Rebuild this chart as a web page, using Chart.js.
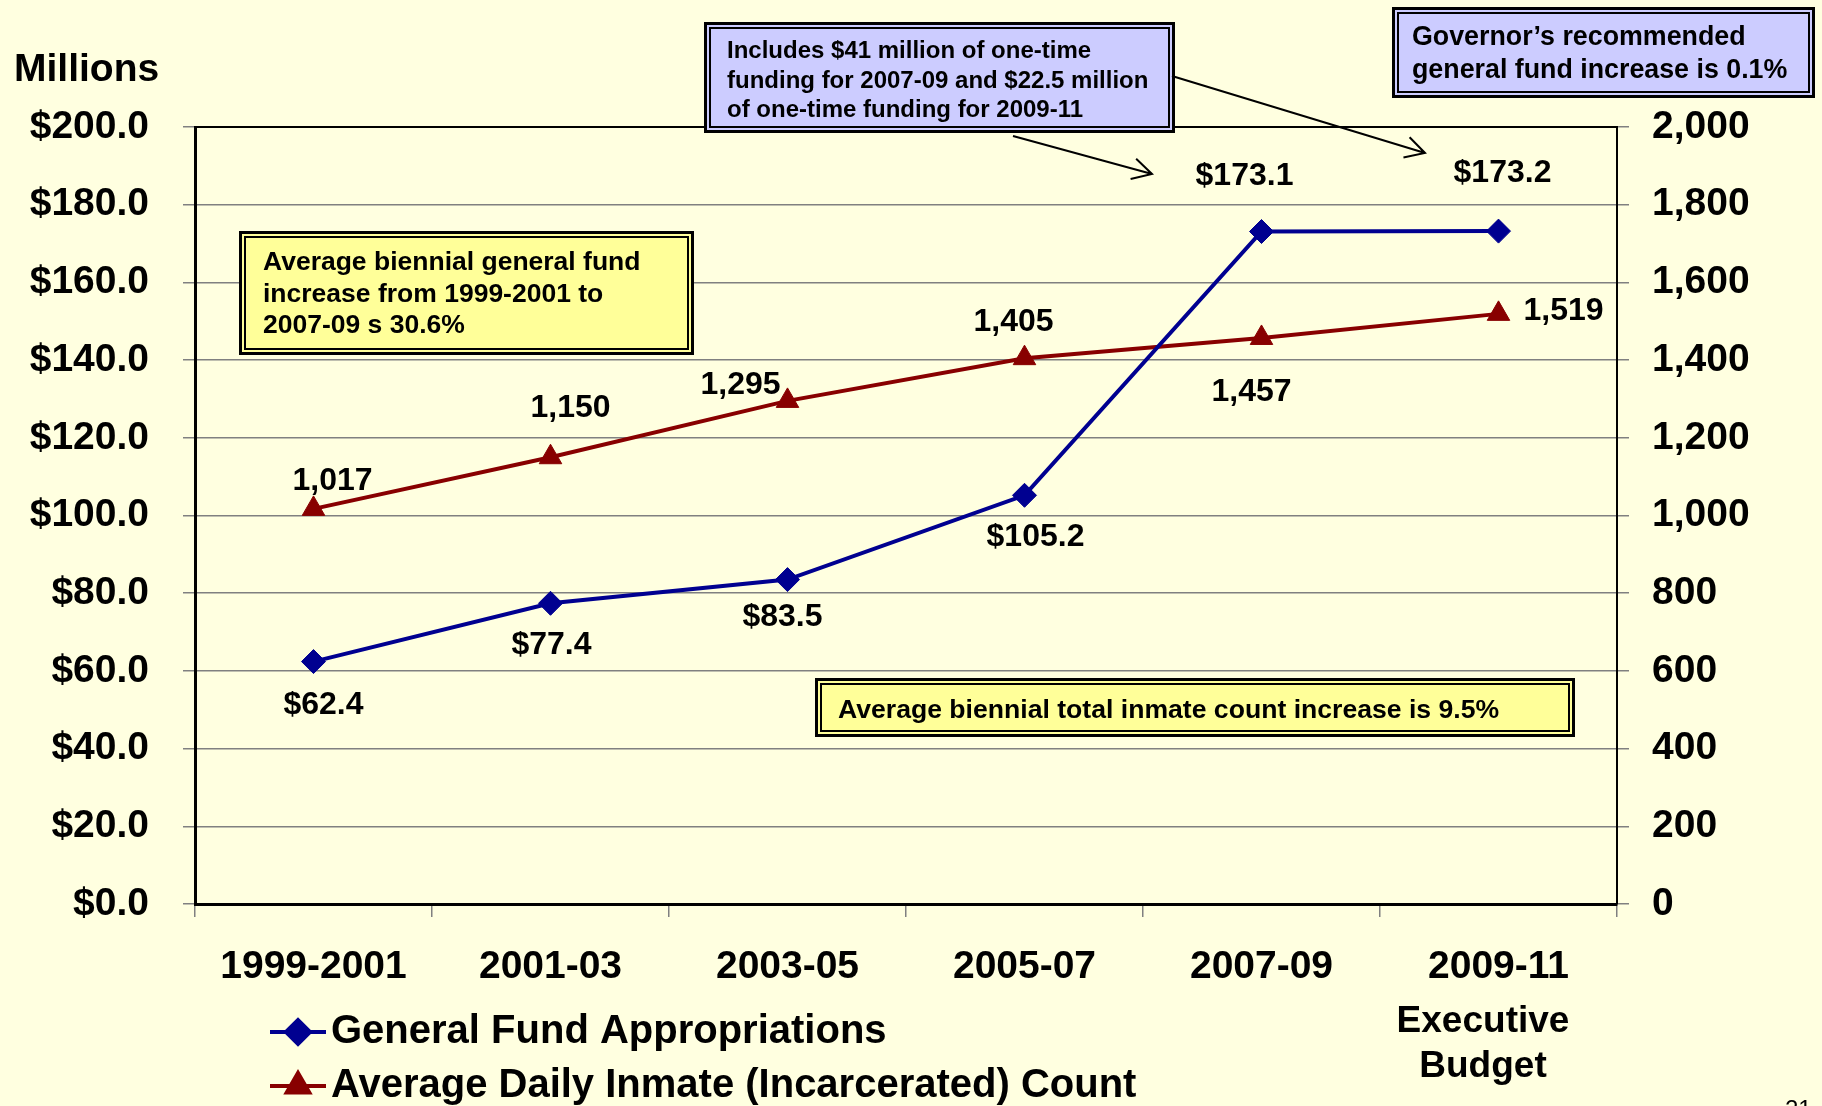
<!DOCTYPE html>
<html>
<head>
<meta charset="utf-8">
<script src="https://cdn.jsdelivr.net/npm/chart.js@4"></script>
<style>
  html, body { margin: 0; padding: 0; background: #FFFFE0; }
  canvas { display: block; }
</style>
</head>
<body>
<canvas id="chart" width="1822" height="1106"></canvas>
<script>
const PERIODS = ['1999-2001', '2001-03', '2003-05', '2005-07', '2007-09', '2009-11'];
const FUND = [62.4, 77.4, 83.5, 105.2, 173.1, 173.2];
const INMATES = [1017, 1150, 1295, 1405, 1457, 1519];
const FUND_AXIS = { min: 0, max: 200, step: 20 };
const INMATE_AXIS = { min: 0, max: 2000, step: 200 };
const SERIES_NAMES = ['General Fund Appropriations', 'Average Daily Inmate (Incarcerated) Count'];

const BLUE = '#000090';
const RED = '#880000';
const FONT = '"Liberation Sans", Arial, sans-serif';

// label offsets from each point (dx, dy)
const fundLabelPos = [[10, 44], [1, 42], [-5, 38], [11, 42], [-17, -55], [4, -58]];
const inmateLabelPos = [[19, -28], [20, -49], [-47, -16], [-11, -36], [-10, 54], [65, -3]];

const fmtMoney = v => '$' + v.toFixed(1);
const fmtCount = v => v.toLocaleString('en-US');

function drawBox(ctx, x, y, w, h, fill, lines, size, lineGap, textX, firstBase) {
    ctx.save();
    ctx.fillStyle = fill;
    ctx.fillRect(x, y, w, h);
    ctx.strokeStyle = '#000';
    ctx.lineWidth = 3;
    ctx.strokeRect(x + 1.5, y + 1.5, w - 3, h - 3);
    ctx.lineWidth = 2;
    ctx.strokeRect(x + 6, y + 6, w - 12, h - 12);
    ctx.fillStyle = '#000';
    ctx.font = 'bold ' + size + 'px ' + FONT;
    ctx.textAlign = 'left';
    ctx.textBaseline = 'alphabetic';
    lines.forEach((t, i) => ctx.fillText(t, textX, firstBase + i * lineGap));
    ctx.restore();
}

function arrow(ctx, x1, y1, x2, y2) {
    const a = Math.atan2(y2 - y1, x2 - x1);
    const len = 22, spread = 0.5;
    ctx.beginPath();
    ctx.moveTo(x1, y1);
    ctx.lineTo(x2, y2);
    ctx.moveTo(x2 - len * Math.cos(a - spread), y2 - len * Math.sin(a - spread));
    ctx.lineTo(x2, y2);
    ctx.lineTo(x2 - len * Math.cos(a + spread), y2 - len * Math.sin(a + spread));
    ctx.stroke();
}

const decor = {
    id: 'decor',
    beforeDraw(chart) {
        const ctx = chart.ctx;
        ctx.save();
        ctx.fillStyle = '#FFFFE0';
        ctx.fillRect(0, 0, chart.width, chart.height);
        ctx.restore();
    },
    afterDatasetsDraw(chart) {
        const ctx = chart.ctx;
        const a = chart.chartArea;
        ctx.save();
        // top edge of plot area
        ctx.strokeStyle = '#000';
        ctx.lineWidth = 2;
        ctx.beginPath();
        ctx.moveTo(a.left, a.top);
        ctx.lineTo(a.right, a.top);
        ctx.stroke();

        ctx.fillStyle = '#000';
        ctx.font = 'bold 32px ' + FONT;
        ctx.textAlign = 'center';
        ctx.textBaseline = 'middle';
        chart.getDatasetMeta(0).data.forEach((p, i) => {
            ctx.fillText(fmtMoney(FUND[i]), p.x + fundLabelPos[i][0], p.y + fundLabelPos[i][1]);
        });
        chart.getDatasetMeta(1).data.forEach((p, i) => {
            ctx.fillText(fmtCount(INMATES[i]), p.x + inmateLabelPos[i][0], p.y + inmateLabelPos[i][1]);
        });
        ctx.restore();
    },
    afterDraw(chart) {
        const ctx = chart.ctx;
        ctx.save();
        ctx.fillStyle = '#000';
        ctx.font = 'bold 39px ' + FONT;
        ctx.textAlign = 'left';
        ctx.textBaseline = 'middle';
        ctx.fillText('Millions', 14, 70);

        ctx.textAlign = 'center';
        ctx.font = 'bold 37px ' + FONT;
        ctx.fillText('Executive', 1483, 1022);
        ctx.fillText('Budget', 1483, 1067);

        ctx.font = '24px ' + FONT;
        ctx.textAlign = 'left';
        ctx.textBaseline = 'top';
        ctx.fillText('21', 1785, 1098);

        // legend
        const items = [
            { y: 1032, color: BLUE, style: 'rectRot', r: 12 },
            { y: 1086, color: RED, style: 'triangle', r: 13 }
        ];
        items.forEach((it, i) => {
            ctx.strokeStyle = it.color;
            ctx.lineWidth = 4;
            ctx.beginPath();
            ctx.moveTo(270, it.y);
            ctx.lineTo(326, it.y);
            ctx.stroke();
            ctx.fillStyle = it.color;
            Chart.helpers.drawPoint(ctx, { pointStyle: it.style, radius: it.r, borderWidth: 1 }, 298, it.y);
            ctx.fill();
            ctx.fillStyle = '#000';
            ctx.font = 'bold 40px ' + FONT;
            ctx.textAlign = 'left';
            ctx.textBaseline = 'middle';
            ctx.fillText(SERIES_NAMES[i], 331, it.y);
        });

        drawBox(ctx, 239, 231, 455, 124, '#FFFF99',
            ['Average biennial general fund', 'increase from 1999-2001 to', '2007-09 s 30.6%'],
            26.5, 31.5, 263, 270);
        drawBox(ctx, 815, 678, 760, 59, '#FFFF99',
            ['Average biennial total inmate count increase is 9.5%'], 26.6, 0, 838, 718);
        drawBox(ctx, 704, 22, 471, 111, '#CCCCFF',
            ['Includes $41 million of one-time', 'funding for 2007-09 and $22.5 million', 'of one-time funding for 2009-11'],
            24, 29.5, 727, 58);
        drawBox(ctx, 1392, 7, 423, 91, '#CCCCFF',
            ['Governor\u2019s recommended', 'general fund increase is 0.1%'], 26.8, 32.5, 1412, 45);

        ctx.strokeStyle = '#000';
        ctx.lineWidth = 2;
        arrow(ctx, 1013, 136, 1152, 174);
        arrow(ctx, 1172, 76, 1425, 153);
        ctx.restore();
    }
};

new Chart(document.getElementById('chart'), {
    type: 'line',
    data: {
        labels: PERIODS,
        datasets: [
            {
                label: SERIES_NAMES[0], data: FUND, yAxisID: 'y',
                borderColor: BLUE, backgroundColor: BLUE, borderWidth: 4,
                pointStyle: 'rectRot', pointRadius: 12, pointBorderWidth: 1, tension: 0
            },
            {
                label: SERIES_NAMES[1], data: INMATES, yAxisID: 'y1',
                borderColor: RED, backgroundColor: RED, borderWidth: 4,
                pointStyle: 'triangle', pointRadius: 13, pointBorderWidth: 1, tension: 0
            }
        ]
    },
    options: {
        responsive: false,
        animation: false,
        layout: { padding: { top: 127, left: 0, right: 0, bottom: 0 } },
        plugins: { legend: { display: false }, tooltip: { enabled: false } },
        scales: {
            x: {
                offset: true,
                grid: { offset: true, drawOnChartArea: false, tickLength: 13, color: '#808080', lineWidth: 1.5 },
                border: { color: '#000', width: 3 },
                ticks: { color: '#000', font: { family: FONT, size: 39, weight: 'bold' }, padding: 27, maxRotation: 0, autoSkip: false },
                afterFit: s => { s.height = 202; }
            },
            y: {
                position: 'left',
                min: FUND_AXIS.min, max: FUND_AXIS.max,
                ticks: { stepSize: FUND_AXIS.step, callback: v => fmtMoney(v), color: '#000', font: { family: FONT, size: 39, weight: 'bold' }, padding: 34 },
                grid: { color: '#808080', lineWidth: 1.5, tickLength: 12 },
                border: { color: '#000', width: 3 },
                afterFit: s => { s.width = 195; }
            },
            y1: {
                position: 'right',
                min: INMATE_AXIS.min, max: INMATE_AXIS.max,
                ticks: { stepSize: INMATE_AXIS.step, callback: v => fmtCount(v), color: '#000', font: { family: FONT, size: 39, weight: 'bold' }, padding: 23 },
                grid: { drawOnChartArea: false, color: '#808080', lineWidth: 1.5, tickLength: 12 },
                border: { color: '#000', width: 2 },
                afterFit: s => { s.width = 205; }
            }
        }
    },
    plugins: [decor]
});
</script>
</body>
</html>
